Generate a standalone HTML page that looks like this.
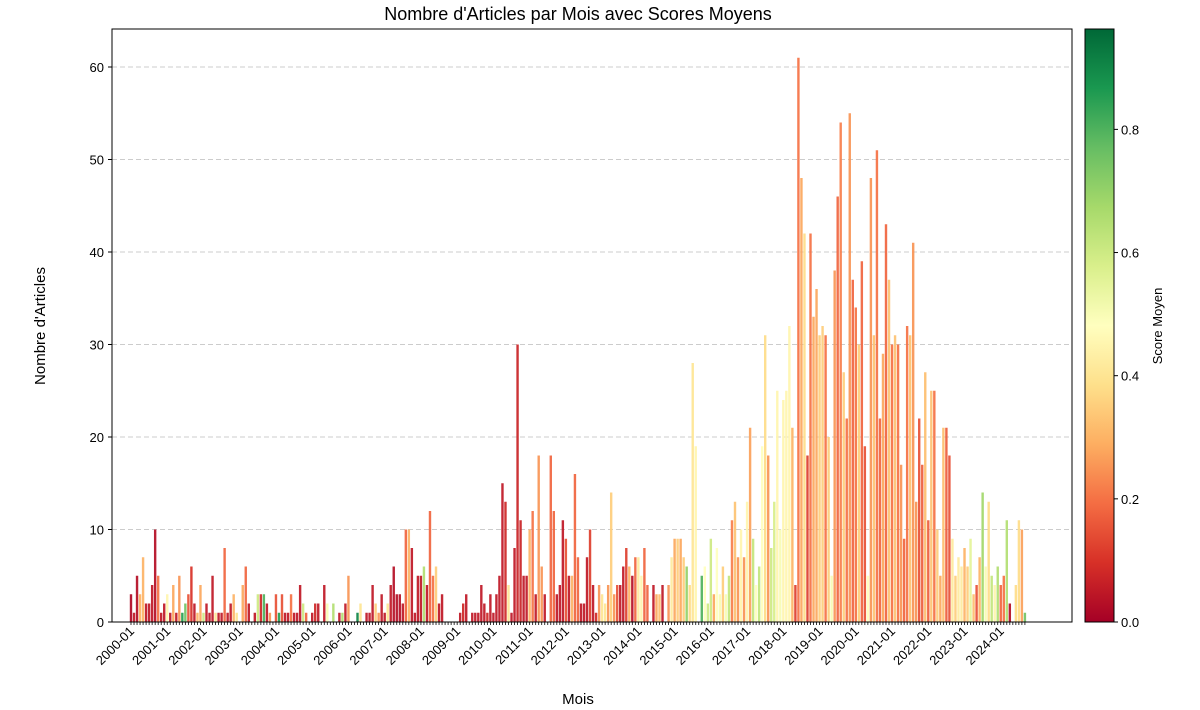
<!DOCTYPE html>
<html><head><meta charset="utf-8"><style>
body{margin:0;background:#fff;}
svg{display:block;font-family:"Liberation Sans","DejaVu Sans",sans-serif;}
</style></head><body>
<svg id="chart" width="1200" height="710" xmlns="http://www.w3.org/2000/svg">
<defs><linearGradient id="cb" x1="0" y1="1" x2="0" y2="0">
<stop offset="0" stop-color="#a50026"/><stop offset="0.1" stop-color="#d73027"/><stop offset="0.2" stop-color="#f46d43"/><stop offset="0.3" stop-color="#fdae61"/><stop offset="0.4" stop-color="#fee08b"/><stop offset="0.5" stop-color="#ffffbf"/><stop offset="0.6" stop-color="#d9ef8b"/><stop offset="0.7" stop-color="#a6d96a"/><stop offset="0.8" stop-color="#66bd63"/><stop offset="0.9" stop-color="#1a9850"/><stop offset="1" stop-color="#006837"/>
</linearGradient></defs>
<text x="578" y="20" font-size="18" text-anchor="middle" fill="#000">Nombre d'Articles par Mois avec Scores Moyens</text>
<g id="grid"></g><g id="bars"></g><g id="axes"></g>
<text transform="translate(45,326) rotate(-90)" font-size="15" text-anchor="middle">Nombre d'Articles</text>
<text x="578" y="704" font-size="15" text-anchor="middle">Mois</text>
<rect x="1085" y="29" width="29" height="593" fill="url(#cb)" stroke="#000" stroke-width="1"/>
<g id="cbticks"></g>
<text transform="translate(1162,326) rotate(-90)" font-size="13" text-anchor="middle">Score Moyen</text>
</svg>
<script>
const values=[3,1,5,3,7,2,2,4,10,5,1,2,3,1,4,1,5,1,2,3,6,2,1,4,1,2,1,5,1,1,1,8,1,2,3,1,0,4,6,2,0,1,3,3,3,2,1,0,3,1,3,1,1,3,1,1,4,2,1,0,1,2,2,0,4,2,0,2,0,1,1,2,5,0,0,1,2,0,1,1,4,2,1,3,1,2,4,6,3,3,2,10,10,8,1,5,5,6,4,12,5,6,2,3,0,0,0,0,0,1,2,3,0,1,1,1,4,2,1,3,1,3,5,15,13,4,1,8,30,11,5,5,10,12,3,18,6,3,0,18,12,3,4,11,9,5,5,16,7,2,2,7,10,4,1,4,3,2,4,14,3,4,4,6,8,6,5,7,7,5,8,4,0,4,3,3,4,0,4,7,9,9,9,7,6,4,28,19,0,5,6,2,9,3,8,3,6,3,5,11,13,7,10,7,13,21,9,4,6,19,31,18,8,13,25,10,24,25,32,21,4,61,48,42,18,42,33,36,31,32,31,20,5,38,46,54,27,22,55,37,34,30,39,19,5,48,31,51,22,29,43,37,30,31,30,17,9,32,31,41,13,22,17,27,11,25,25,10,5,21,21,18,9,5,7,6,8,6,9,3,4,7,14,6,13,5,4,6,4,5,11,2,0,4,11,10,1];
const scores=[.02,.05,.03,.3,.3,.05,.05,.05,.03,.2,.05,.05,.45,.05,.28,.05,.25,.85,.75,.15,.1,.05,.3,.28,.6,.05,.05,.05,.4,.05,.05,.18,.05,.05,.3,.4,0,.28,.18,.05,0,.05,.6,.08,.8,.05,.25,0,.15,.85,.15,.05,.05,.2,.05,.05,.05,.6,.18,0,.05,.08,.05,0,.05,.5,0,.65,0,.05,.65,.05,.25,0,0,.9,.4,0,.05,.05,.05,.35,.25,.05,.05,.4,.05,.03,.03,.03,.05,.18,.3,.05,.05,.05,.05,.65,.05,.18,.2,.35,.05,.05,0,0,0,0,0,.05,.08,.05,0,.05,.05,.05,.05,.05,.08,.05,.05,.05,.05,.05,.08,.4,.05,.05,.07,.07,.05,.05,.3,.2,.05,.25,.25,.05,0,.18,.18,.05,.05,.05,.15,.05,.3,.18,.18,.05,.05,.05,.12,.05,.08,.25,.4,.4,.25,.35,.25,.15,.05,.05,.12,.3,.03,.18,.42,.45,.18,.18,0,.05,.28,.32,.05,0,.25,.42,.28,.35,.28,.35,.7,.38,.4,.45,0,.8,.48,.6,.6,.28,.48,.5,.35,.5,.62,.22,.33,.25,.45,.25,.45,.27,.62,.48,.62,.48,.38,.25,.6,.58,.45,.5,.45,.45,.45,.3,.12,.2,.28,.38,.12,.2,.28,.28,.35,.35,.2,.35,.5,.25,.18,.22,.35,.2,.25,.18,.2,.35,.18,.15,.48,.25,.33,.2,.18,.28,.18,.33,.2,.33,.2,.25,.18,.2,.33,.25,.25,.15,.17,.32,.17,.33,.2,.35,.28,.32,.17,.15,.42,.35,.42,.42,.3,.35,.55,.32,.15,.3,.68,.5,.38,.62,.45,.65,.18,.2,.65,.03,0,.38,.38,.27,.75];
const yTicks=[0,10,20,30,40,50,60];
const cbTicks=[0,0.2,0.4,0.6,0.8];
const startYear=2000;
const NS="http://www.w3.org/2000/svg";
const plotL=112,plotR=1072,plotT=29,plotB=622;
const x0=131,dx=3.02,vmax=0.963;
const yS=v=>plotB-v*(plotB-67)/60;
const xS=i=>x0+i*dx;
const stops=[[165,0,38],[215,48,39],[244,109,67],[253,174,97],[254,224,139],[255,255,191],[217,239,139],[166,217,106],[102,189,99],[26,152,80],[0,104,55]];
function cmap(s){let t=Math.max(0,Math.min(1,s/vmax))*10;let k=Math.min(9,Math.floor(t));let f=t-k;let a=stops[k],b=stops[k+1];return `rgb(${a.map((c,j)=>Math.round(c+(b[j]-c)*f)).join(',')})`;}
function mk(tag,attrs,parent){const e=document.createElementNS(NS,tag);for(const k in attrs)e.setAttribute(k,attrs[k]);parent.appendChild(e);return e;}
const grid=document.getElementById('grid'),bars=document.getElementById('bars'),axes=document.getElementById('axes'),cbt=document.getElementById('cbticks');
yTicks.forEach(v=>{
 if(v>0){const g=mk('line',{x1:plotL,x2:plotR,y1:yS(v),y2:yS(v),stroke:'#ccc','stroke-dasharray':'5,3','stroke-width':1},grid);
 
 }
 const t=mk('line',{x1:plotL-4,x2:plotL,y1:yS(v),y2:yS(v),stroke:'#000'},axes);
 
 
 const l=mk('text',{x:plotL-8,y:yS(v)+5,'font-size':13,'text-anchor':'end'},axes);l.textContent=v;
 
 
});
values.forEach((v,i)=>{
 if(v<=0)return;
 const r=mk('rect',{x:xS(i)-1.2,y:yS(v),width:2.4,height:plotB-yS(v),fill:cmap(scores[i]),opacity:0.93},bars);
 
 
});
const frame=mk('rect',{x:plotL,y:plotT,width:plotR-plotL,height:plotB-plotT,fill:'none',stroke:'#000','stroke-width':1},axes);


for(let i=0;i<values.length;i++){
 const t=mk('line',{x1:xS(i),x2:xS(i),y1:plotB,y2:plotB+3,stroke:'#000','stroke-width':0.8},axes);
 
 
 if(i%12===0){
  const lx=xS(i)+4,ly=plotB+10;
  const l=mk('text',{x:lx,y:ly,'font-size':13,'text-anchor':'end',transform:`rotate(-45 ${lx} ${ly})`},axes);
  l.textContent=(startYear+i/12)+'-01';
  
  
 }
}
cbTicks.forEach(v=>{
 const y=plotB-v/vmax*(plotB-plotT);
 const t=mk('line',{x1:1114,x2:1118,y1:y,y2:y,stroke:'#000'},cbt);
 
 
 const l=mk('text',{x:1121,y:y+5,'font-size':13},cbt);l.textContent=v.toFixed(1);
 
 
});
</script>
</body></html>
